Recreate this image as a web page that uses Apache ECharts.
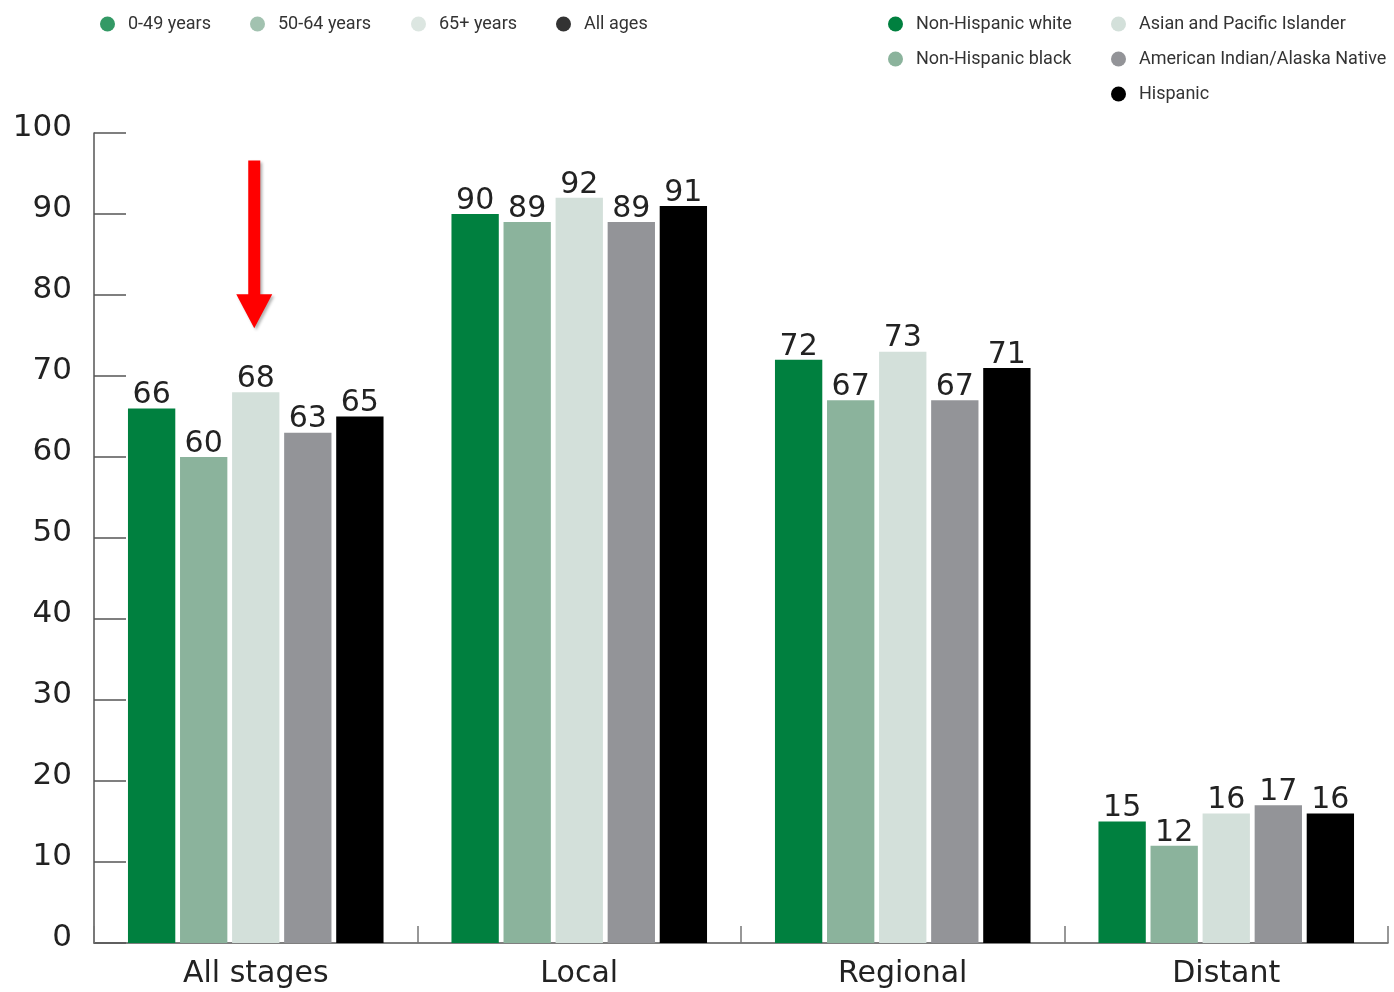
<!DOCTYPE html>
<html>
<head>
<meta charset="utf-8">
<style>
  html, body { margin: 0; padding: 0; background: #fff; }
  #chart { width: 1394px; height: 992px; }
</style>
<script src="https://cdn.jsdelivr.net/npm/echarts@6/dist/echarts.min.js"></script>
</head>
<body>
<div id="chart"></div>
<script>
// Stage categories and 5-year survival (%) by race/ethnicity
const categories = ['All stages', 'Local', 'Regional', 'Distant'];
const nonHispanicWhite = [66, 90, 72, 15];
const nonHispanicBlack = [60, 89, 67, 12];
const asianPacific = [68, 92, 73, 16];
const aianNative = [63, 89, 67, 17];
const hispanic = [65, 91, 71, 16];

const raceNames = ['Non-Hispanic white', 'Non-Hispanic black', 'Asian and Pacific Islander',
  'American Indian/Alaska Native', 'Hispanic'];
const ageNames = ['0-49 years', '50-64 years', '65+ years', 'All ages'];
const yTicks = [0, 10, 20, 30, 40, 50, 60, 70, 80, 90, 100];

// Arrow annotation over the All stages group (value range it spans)
const arrowCategory = 'All stages';
const arrowFrom = 96.6;
const arrowTo = 75.9;

const COLORS = ['#00803f', '#8bb39c', '#d3e0da', '#939498', '#000000'];
const AGE_COLORS = ['#00803f', '#8bb39c', '#d3e0da', '#000000'];

const NUM_FONT = "'DejaVu Sans', sans-serif";
const LEGEND_FONT = "'Roboto', sans-serif";

const chart = echarts.init(document.getElementById('chart'), null, { renderer: 'canvas' });

const raceValues = [nonHispanicWhite, nonHispanicBlack, asianPacific, aianNative, hispanic];

const barSeries = raceNames.map((name, i) => ({
  name: name,
  type: 'bar',
  data: raceValues[i],
  barGap: '10%',
  barCategoryGap: '21%',
  itemStyle: { color: COLORS[i] },
  label: {
    show: true,
    position: 'top',
    distance: -2,
    color: '#222',
    fontFamily: NUM_FONT,
    fontSize: 30
  },
  emphasis: { disabled: true }
}));

// Age-group legend entries (no marks of their own)
const ageSeries = ageNames.map((name, i) => ({
  name: name,
  type: 'scatter',
  data: [],
  itemStyle: { color: AGE_COLORS[i] }
}));

const legendBase = {
  orient: 'vertical',
  icon: 'circle',
  itemWidth: 15,
  itemHeight: 15,
  selectedMode: false,
  padding: 0,
  textStyle: {
    fontFamily: LEGEND_FONT,
    fontSize: 18,
    color: '#333',
    padding: [0, 0, 0, 8]
  }
};

const ageLefts = [100, 250, 411, 556];
const legends = ageNames.map((name, i) => Object.assign({}, legendBase, {
  data: [name],
  left: ageLefts[i],
  top: 15
}));
legends.push(Object.assign({}, legendBase, {
  data: raceNames.slice(0, 2),
  left: 888,
  top: 15,
  itemGap: 17
}));
legends.push(Object.assign({}, legendBase, {
  data: raceNames.slice(2),
  left: 1111,
  top: 15,
  itemGap: 17
}));

chart.setOption({
  animation: false,
  legend: legends,
  grid: { left: 94, right: 6, top: 133, bottom: 49, containLabel: false },
  xAxis: {
    type: 'category',
    data: categories,
    axisLine: { show: true, lineStyle: { color: '#555', width: 1.5 } },
    axisTick: { show: true, inside: true, length: 17, interval: 0, lineStyle: { color: '#777', width: 1.5 } },
    axisLabel: { color: '#222', fontFamily: NUM_FONT, fontSize: 30, margin: 16, interval: 0 },
    splitLine: { show: false }
  },
  yAxis: {
    type: 'value',
    min: 0,
    max: 100,
    interval: 10,
    axisLine: { show: true, lineStyle: { color: '#555', width: 1.5 } },
    axisTick: { show: true, inside: true, length: 32, lineStyle: { color: '#555', width: 1.5 } },
    axisLabel: {
      color: '#222', fontFamily: NUM_FONT, fontSize: 31, margin: 22,
      verticalAlign: 'bottom', lineHeight: 10,
      formatter: v => yTicks.includes(v) ? String(v) : ''
    },
    splitLine: { show: false }
  },
  series: barSeries.concat(ageSeries)
});

// Red arrow pointing down at the All stages group
function drawArrow() {
  const x = chart.convertToPixel({ xAxisIndex: 0 }, arrowCategory) - 1.5;
  const yTop = chart.convertToPixel({ yAxisIndex: 0 }, arrowFrom);
  const yTip = chart.convertToPixel({ yAxisIndex: 0 }, arrowTo);
  const headH = 34, headW = 18, shaftW = 6;
  chart.setOption({
    graphic: [{
      type: 'polygon',
      z: 100,
      shape: {
        points: [
          [x - shaftW, yTop], [x + shaftW, yTop], [x + shaftW, yTip - headH],
          [x + headW, yTip - headH], [x, yTip], [x - headW, yTip - headH],
          [x - shaftW, yTip - headH]
        ]
      },
      style: {
        fill: '#ff0000',
        shadowBlur: 3,
        shadowColor: 'rgba(0,0,0,0.3)',
        shadowOffsetX: 2,
        shadowOffsetY: 2
      }
    }]
  });
}
drawArrow();
</script>
</body>
</html>
